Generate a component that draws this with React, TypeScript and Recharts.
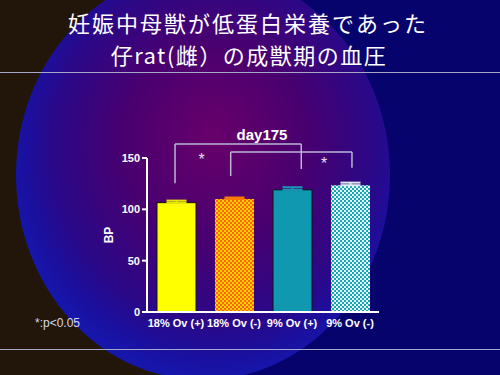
import React from 'react';
import { BarChart, Bar, XAxis, YAxis, ErrorBar, ReferenceLine, ReferenceDot } from 'recharts';

const categories = ['18% Ov (+)', '18% Ov (-)', '9% Ov (+)', '9% Ov (-)'];
const bpMeans = [106.5, 110, 119, 123.5];
const bpErrors = [2, 1.5, 2.5, 2.5];
const yTicks = [0, 50, 100, 150];

const barFills = ['#ffff00', 'url(#patOrange)', '#1098b0', 'url(#patTeal)'];
const barStrokes = ['#111', 'none', '#111', 'none'];
const errColors = ['#e8e800', '#ff7a00', '#1898b8', '#d8eef4'];

// significance brackets: [x (category position, 0..4), y (BP)] points
const bracket1 = [[0.483, 125.4], [0.483, 163.6], [2.66, 163.6], [2.66, 139.3]];
const bracket2 = [[1.443, 132.5], [1.443, 155.8], [3.534, 155.8], [3.534, 140.5]];
const stars = [[0.943, 152.9], [3.052, 148.7]];

const data = categories.map((name, i) => {
  const row: any = { name, pos: i + 0.5 };
  categories.forEach((_, j) => {
    row['v' + j] = j === i ? bpMeans[i] : 0;
    if (j === i) row['e' + j] = [0, bpErrors[i]];
  });
  return row;
});

const segs = (pts: number[][]) =>
  pts.slice(0, -1).map((p, k) => [
    { x: p[0], y: p[1] },
    { x: pts[k + 1][0], y: pts[k + 1][1] },
  ]);

const SANS = '"Liberation Sans", Arial, sans-serif';
const CJK = '"Noto Sans CJK JP", sans-serif';

export default function App() {
  return (
    <div style={{ position: 'absolute', left: 0, top: 0, width: 500, height: 375, overflow: 'hidden' }}>
      <svg width={500} height={375} style={{ position: 'absolute', left: 0, top: 0 }}>
        <defs>
          <radialGradient id="bgGrad" cx="0.53" cy="0.44" r="0.55" fx="0.53" fy="0.4">
            <stop offset="0" stopColor="#68006a" />
            <stop offset="0.45" stopColor="#480070" />
            <stop offset="0.78" stopColor="#2a0888" />
            <stop offset="0.93" stopColor="#1a10a0" />
            <stop offset="1" stopColor="#1616aa" />
          </radialGradient>
          <pattern id="patOrange" width="4" height="4" patternUnits="userSpaceOnUse">
            <rect width="4" height="4" fill="#ffd200" />
            <rect width="2" height="2" fill="#ff6400" />
            <rect x="2" y="2" width="2" height="2" fill="#ff6400" />
          </pattern>
          <pattern id="patTeal" width="4" height="4" patternUnits="userSpaceOnUse">
            <rect width="4" height="4" fill="#e4f6f8" />
            <rect width="2" height="2" fill="#18a4b8" />
            <rect x="2" y="2" width="2" height="2" fill="#18a4b8" />
          </pattern>
        </defs>
        <rect x={0} y={0} width={500} height={375} fill="#07036c" />
        <rect x={0} y={0} width={200} height={375} fill="#22160a" />
        <ellipse cx={203} cy={175} rx={187} ry={205} fill="url(#bgGrad)" />
        <line x1={0} x2={500} y1={72.5} y2={72.5} stroke="#a8a8c8" strokeWidth={1} />
        <line x1={0} x2={500} y1={349.5} y2={349.5} stroke="#a8a8c8" strokeWidth={1} />
        <text x={248} y={22} fill="#fff" fontSize={22} letterSpacing={2} textAnchor="middle"
          dominantBaseline="central" fontFamily={CJK}>妊娠中母獣が低蛋白栄養であった</text>
        <text x={249} y={54} fill="#fff" fontSize={22} letterSpacing={1.5} textAnchor="middle"
          dominantBaseline="central" fontFamily={CJK}>仔rat(雌）の成獣期の血圧</text>
        <text x={262} y={134} fill="#fff" fontSize={15} fontWeight="bold" textAnchor="middle"
          dominantBaseline="central" fontFamily={SANS}>day175</text>
        <text x={35} y={323} fill="#d8d8e8" fontSize={12} dominantBaseline="central"
          fontFamily={SANS}>*:p&lt;0.05</text>
      </svg>
      <div style={{ position: 'absolute', left: 0, top: 0 }}>
        <BarChart width={500} height={375} data={data}
          margin={{ top: 158, right: 121, bottom: 33, left: 107 }}>
          <XAxis xAxisId="c" dataKey="name" height={30} tickLine={false} tickSize={3} tickMargin={4}
            axisLine={{ stroke: '#fff', strokeWidth: 2 }}
            tick={{ fill: '#fff', fontSize: 11, fontWeight: 'bold', fontFamily: SANS }} interval={0} />
          <XAxis xAxisId="n" dataKey="pos" type="number" domain={[0, 4]} allowDataOverflow hide />
          <YAxis width={40} domain={[0, 150]} ticks={yTicks} interval={0} tickSize={5} tickMargin={2}
            axisLine={{ stroke: '#fff', strokeWidth: 2 }} tickLine={{ stroke: '#fff', strokeWidth: 2 }}
            tick={{ fill: '#fff', fontSize: 11, fontWeight: 'bold', fontFamily: SANS }}
            label={{ value: 'BP', angle: -90, position: 'center', dx: -18, fill: '#fff', fontSize: 12, fontWeight: 'bold', fontFamily: SANS }} />
          {categories.map((_, j) => (
            <Bar key={j} xAxisId="c" dataKey={'v' + j} stackId="s" barSize={39} fill={barFills[j]}
              stroke={barStrokes[j]} strokeWidth={1} isAnimationActive={false}>
              <ErrorBar dataKey={'e' + j} direction="y" width={10} stroke={errColors[j]} strokeWidth={2} />
            </Bar>
          ))}
          {[...segs(bracket1), ...segs(bracket2)].map((s, k) => (
            <ReferenceLine key={'b' + k} xAxisId="n" segment={s} ifOverflow="visible"
              stroke="#b8b8d4" strokeWidth={1.5} />
          ))}
          {stars.map((p, k) => (
            <ReferenceDot key={'s' + k} xAxisId="n" x={p[0]} y={p[1]} r={0} ifOverflow="visible"
              shape={(props: any) => (
                <text x={props.cx} y={props.cy} dy={4} fill="#e0e0f0" fontSize={16} textAnchor="middle"
                  dominantBaseline="central" fontFamily={SANS}>*</text>
              )} />
          ))}
        </BarChart>
      </div>
    </div>
  );
}
